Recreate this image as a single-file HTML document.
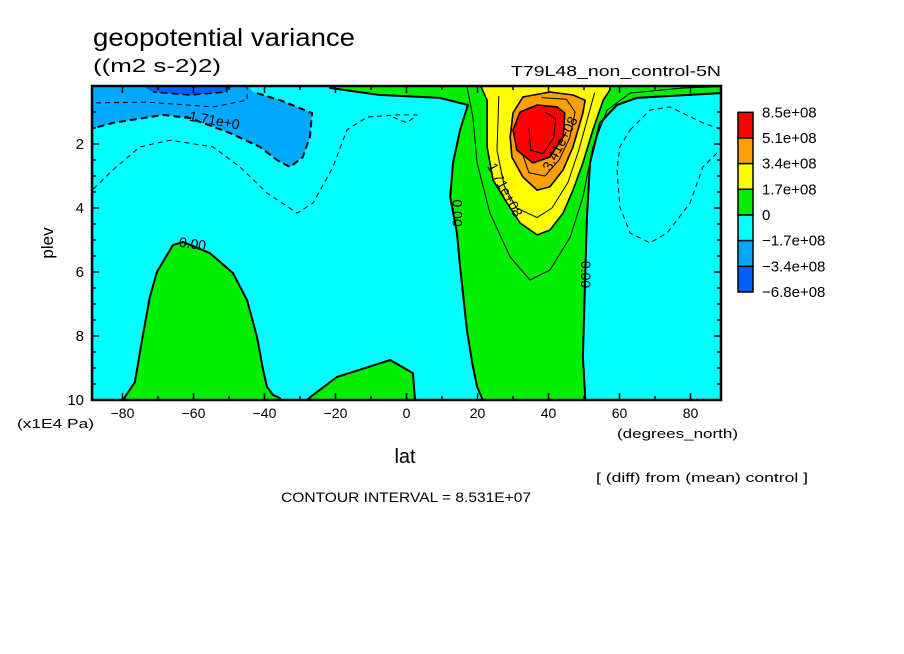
<!DOCTYPE html>
<html><head><meta charset="utf-8"><style>
html,body{margin:0;padding:0;background:#fff;}
svg{display:block;font-family:"Liberation Sans",sans-serif;}
</style></head><body>
<svg id="chart" width="904" height="654" viewBox="0 0 904 654" xmlns="http://www.w3.org/2000/svg">
<rect x="0" y="0" width="904" height="654" fill="#fff"/>
<text x="93" y="46" font-size="25" textLength="262" lengthAdjust="spacingAndGlyphs">geopotential variance</text>
<text x="93" y="72" font-size="18" textLength="128" lengthAdjust="spacingAndGlyphs">((m2 s-2)2)</text>
<text x="721" y="76" font-size="15" text-anchor="end" textLength="210" lengthAdjust="spacingAndGlyphs">T79L48_non_control-5N</text>
<defs><clipPath id="plotclip"><rect x="92" y="86" width="629" height="314"/></clipPath></defs>
<g id="plot" clip-path="url(#plotclip)"></g>
<g id="axes"></g>
<g id="legend"></g>
<text x="0" y="0" font-size="17" text-anchor="middle" transform="translate(53,243) rotate(-90)">plev</text>
<text x="17" y="428" font-size="13" textLength="77" lengthAdjust="spacingAndGlyphs">(x1E4 Pa)</text>
<text x="617" y="438" font-size="13" textLength="121" lengthAdjust="spacingAndGlyphs">(degrees_north)</text>
<text x="405" y="463" font-size="20" text-anchor="middle">lat</text>
<text x="596" y="482" font-size="13" textLength="212" lengthAdjust="spacingAndGlyphs">[ (diff) from (mean) control ]</text>
<text x="281" y="502" font-size="14" textLength="250" lengthAdjust="spacingAndGlyphs">CONTOUR INTERVAL = 8.531E+07</text>
</svg>
<script>
const xTicks = [-80,-60,-40,-20,0,20,40,60,80];
const yTicks = [2,4,6,8,10];
const legendLabels = ["8.5e+08","5.1e+08","3.4e+08","1.7e+08","0","-1.7e+08","-3.4e+08","-6.8e+08"];
const legendColors = ["#ff0000","#ffa000","#ffff00","#00ee00","#00ffff","#00a8ff","#0060ff"];
// contour regions in (lat, plev) data coordinates
const lightBlueRegion = [[-90,0],[-90,1.56],[-82.7,1.34],[-68.6,1.09],[-61,1.19],[-49.7,1.66],[-41.3,2.09],[-36.5,2.5],[-32.8,2.72],[-29.2,2.41],[-27.2,1.78],[-26.6,1.03],[-35.6,0.63],[-43.2,0.375],[-44.9,0]];
const blueRegion = [[-75.1,0],[-50.6,0],[-50.6,0.375],[-61,0.47],[-71.4,0.375]];
const greenTopRegion = [[-21.5,0],[90,0],[90,0.41],[88.3,0.41],[64.9,0.56],[59.3,0.78],[54.5,1.34],[51.7,2.59],[50.8,4.38],[50.3,6.25],[49.7,8.66],[50.3,9.84],[50.3,10],[21.5,10],[19.9,9.59],[18.5,8.84],[17,7.81],[15.1,5.84],[14.2,4.78],[12.3,3.66],[13.1,2.59],[15.1,1.56],[17.3,0.78],[9.4,0.56],[-7.5,0.47],[-21.5,0.25]];
const greenBlobWest = [[-79.9,10],[-76.5,9.44],[-74.5,8.13],[-72.3,6.78],[-70.3,6.0],[-65.8,5.16],[-63,5.06],[-55.4,5.41],[-48.9,6.03],[-44.9,6.88],[-42.1,8.03],[-40.4,9.06],[-39.3,9.59],[-37.6,9.84],[-35.6,9.94],[-35.6,10]];
const greenBlobEq = [[-28,10],[-26.3,9.84],[-19.6,9.28],[-4.6,8.75],[1.8,9.16],[2.4,10]];
const yellowRegion = [[20.7,0],[57.3,0],[57.3,0.31],[55.4,0.63],[52.5,1.56],[49.7,2.59],[46.9,3.44],[44.1,4.16],[40.4,4.69],[36.8,4.84],[32,4.47],[28.3,3.84],[24.4,3.13],[22.7,2.09],[22.7,0.63]];
const orangeRegion = [[30,1.03],[29.2,1.78],[29.7,2.41],[32.8,3.03],[36.8,3.44],[40.4,3.34],[44.1,2.81],[46.9,2.09],[49.7,1.03],[50.3,0.63],[46.9,0.47],[40.4,0.375],[32.8,0.53]];
const redRegion = [[30,1.56],[31.1,2.19],[35.6,2.59],[40.4,2.41],[44.1,1.78],[44.6,1.03],[42.4,0.84],[36.8,0.78],[32,1.0]];
const thinPosLine = [[17,0.2],[18.7,1.16],[19.9,2.59],[23.5,4.16],[29.2,5.53],[34.8,6.25],[40.4,5.94],[46.1,4.91],[49.7,3.66],[52.5,2.09],[56.5,0.94],[63,0.41],[77.9,0.25],[90,0.2]];
const yellowInner = [[26,0.5],[25.5,2.2],[27.5,3.3],[31,4.0],[36.8,4.3],[41,4.0],[45.5,3.2],[48.5,2.2],[51.5,1.0],[53,0.4]];
const orangeInner = [[33,1.3],[32,2.1],[34.5,2.9],[39,3.0],[43,2.5],[46,1.8],[47.5,1.0],[45,0.6],[38,0.55]];
const redInner = [[34.5,1.5],[35,2.2],[38.5,2.3],[41.5,1.8],[42,1.2],[39,1.0]];
const dashWestThin = [[-90,3.6],[-82.7,2.81],[-75.1,2.09],[-66.6,1.88],[-54.5,2.09],[-46.9,2.72],[-39.3,3.53],[-30.8,4.16],[-26.3,3.84],[-20.7,2.72],[-16.8,1.56],[-11.1,1.16],[-2.7,1.09],[3,1.09],[0.1,1.34],[-3.8,1.16]];
const dashWestTop = [[-90,0.72],[-73.1,0.69],[-54.5,0.84],[-44.9,0.63],[-44.9,0]];
const dashEastLoop = [[63,1.56],[68.6,0.94],[74.2,0.84],[83.5,1.34],[90,1.6],[90,2.0],[83.5,2.72],[79.9,3.84],[73.4,4.78],[68.6,5.09],[63,4.78],[60.1,3.97],[59.3,2.81],[60.1,2.09],[63,1.56]];
const zeroLabels = [
  {t:"0.00", lat:14.0, p:4.16, rot:90},
  {t:"0.00", lat:50.2, p:6.08, rot:90},
  {t:"0.00", lat:-60.3, p:5.15, rot:8},
  {t:"-1.71e+0", lat:-54.8, p:1.28, rot:10},
  {t:"1.71e+08", lat:27.5, p:3.45, rot:62},
  {t:"3.41e+08", lat:43.5, p:2.0, rot:-62}
];

const X0=406.5, XS=3.55, PTOP=0.19;
function xs(lat){return X0+lat*XS;}
function ys(p){return 400-(10-p)*32;}
const NS="http://www.w3.org/2000/svg";
function mk(tag,attrs,parent){const e=document.createElementNS(NS,tag);for(const k in attrs)e.setAttribute(k,attrs[k]);parent.appendChild(e);return e;}
function pts(arr){return arr.map(d=>xs(d[0]).toFixed(1)+","+ys(Math.max(d[1],PTOP-0.05)).toFixed(1)).join(" ");}
const plot=document.getElementById("plot");
const axes=document.getElementById("axes");
const legend=document.getElementById("legend");

let bg=mk("rect",{x:92,y:86,width:629,height:314,fill:"#00ffff"},plot);



function region(arr,fill,name,stroke,sw){
  const e=mk("polygon",{points:pts(arr),fill:fill,stroke:stroke||"none","stroke-width":sw||0,"stroke-linejoin":"round"},plot);
  
  
}
function line(arr,name,sw,dash){
  const e=mk("polyline",{points:pts(arr),fill:"none",stroke:"#000","stroke-width":sw,"stroke-dasharray":dash||"none","stroke-linejoin":"round"},plot);
  
  
}
region(lightBlueRegion,"#00a8ff","region-neg-170");
line(lightBlueRegion.slice(1,-1),"contour-neg-171",2,"7,4");
region(blueRegion,"#0060ff","region-neg-340");
line(blueRegion,"contour-neg-340",1.5,"7,4");
region(greenTopRegion,"#00ee00","region-pos-central","#000",2);
region(greenBlobWest,"#00ee00","region-pos-southern-blob","#000",2);
region(greenBlobEq,"#00ee00","region-pos-equatorial-blob","#000",2);
line(thinPosLine,"contour-pos-085",1);
region(yellowRegion,"#ffff00","region-pos-170","#000",1.6);
line(yellowInner,"contour-pos-256",1);
region(orangeRegion,"#ffa000","region-pos-340","#000",1.6);
line(orangeInner,"contour-pos-427",1);
region(redRegion,"#ff0000","region-pos-512","#000",1.6);
line(redInner,"contour-pos-683",1);
line(dashWestThin,"contour-neg-085-west",1,"5,4");
line(dashWestTop,"contour-neg-256-west",1,"5,4");
line(dashEastLoop,"contour-neg-085-east",1,"5,4");
zeroLabels.forEach(l=>{
  const bx=mk("rect",{x:-4,y:-6,width:l.t.length*7+4,height:12,fill:"none"},plot);
  const t=mk("text",{x:xs(l.lat),y:ys(l.p),"font-size":14,"text-anchor":"middle","dominant-baseline":"middle",transform:`rotate(${l.rot} ${xs(l.lat)} ${ys(l.p)})`},plot);
  t.textContent=l.t;
  
  
  bx.remove();
});

// frame
let fr=mk("rect",{x:92,y:86,width:629,height:314,fill:"none",stroke:"#000","stroke-width":2.5},axes);


// x ticks
for(let lat=-80;lat<=80;lat+=10){
  const major=(lat%20===0), L=major?7:4, x=xs(lat);
  let t1=mk("line",{x1:x,y1:400,x2:x,y2:400-L,stroke:"#000","stroke-width":1.5},axes);
  
  
  let t2=mk("line",{x1:x,y1:86,x2:x,y2:86+L,stroke:"#000","stroke-width":1.5},axes);
  
  
}
xTicks.forEach(v=>{
  const t=mk("text",{x:xs(v),y:418,"font-size":14,"text-anchor":"middle"},axes);
  t.textContent=String(v).replace("-","\u2212");
  
  
});
for(let p=1;p<=10;p+=0.5){
  const major=(p%2===0), L=major?7:4, y=ys(p);
  let t1=mk("line",{x1:92,y1:y,x2:92+L,y2:y,stroke:"#000","stroke-width":1.5},axes);
  
  
  let t2=mk("line",{x1:721,y1:y,x2:721-L,y2:y,stroke:"#000","stroke-width":1.5},axes);
  
  
}
yTicks.forEach(v=>{
  const t=mk("text",{x:84,y:ys(v)+5,"font-size":15,"text-anchor":"end"},axes);
  t.textContent=String(v);
  
  
});
// legend
const LX=738, LW=15, LT=112.3, LH=(292-112.3)/legendColors.length;
legendColors.forEach((c,i)=>{
  const r=mk("rect",{x:LX,y:LT+i*LH,width:LW,height:LH,fill:c,stroke:"#000","stroke-width":1.5},legend);
  
  
});
legendLabels.forEach((s,i)=>{
  const t=mk("text",{x:762,y:LT+i*LH+5,"font-size":15},legend);
  t.textContent=s.replace("-","\u2212");
  
  
});
</script>
</body></html>
